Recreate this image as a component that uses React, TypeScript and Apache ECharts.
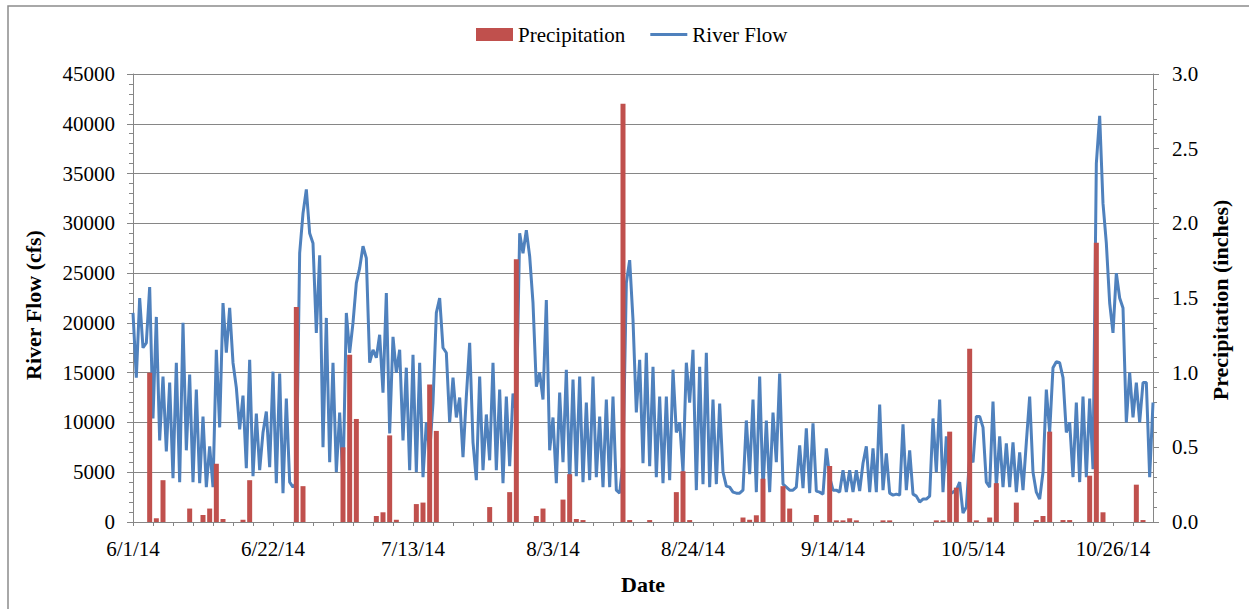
import React, { useEffect, useRef } from "react";
import * as echarts from "echarts";

// ---- data ----
const START_UTC = Date.UTC(2014, 5, 1); // 6/1/14
const DAY_MS = 86400000;
const AXIS_DAYS = 153; // 6/1/14 .. 11/1/14
const LABEL_EVERY_DAYS = 21;
const FLOW_STEP_DAYS = 0.5;

// daily precipitation (inches), one value per day starting 6/1/14
const precipitationDaily = [
  0, 0, 1.0, 0.025, 0.28, 0, 0, 0, 0.09, 0,
  0.047, 0.09, 0.39, 0.02, 0, 0, 0.015, 0.28, 0, 0,
  0, 0, 0, 0, 1.44, 0.24, 0, 0, 0, 0,
  0, 0.5, 1.12, 0.69, 0, 0, 0.04, 0.065, 0.58, 0.015,
  0, 0, 0.12, 0.13, 0.92, 0.61, 0, 0, 0, 0,
  0, 0, 0, 0.1, 0, 0, 0.2, 1.76, 0, 0,
  0.04, 0.09, 0, 0, 0.15, 0.32, 0.02, 0.013, 0, 0,
  0, 0, 0, 2.8, 0.013, 0, 0, 0.013, 0, 0,
  0, 0.2, 0.34, 0.013, 0, 0, 0, 0, 0, 0,
  0, 0.03, 0.015, 0.045, 0.29, 0, 0, 0.24, 0.09, 0,
  0, 0, 0.047, 0, 0.375, 0.011, 0.011, 0.025, 0.011, 0,
  0, 0, 0.011, 0.011, 0, 0, 0, 0, 0, 0,
  0.011, 0.011, 0.605, 0.23, 0, 1.16, 0.011, 0, 0.03, 0.26,
  0, 0, 0.13, 0, 0, 0.013, 0.04, 0.605, 0, 0.013,
  0.013, 0, 0, 0.31, 1.87, 0.065, 0, 0, 0, 0,
  0.25, 0.013, 0,
];

// river flow (cfs), one reading every half day starting 6/1/14
const riverFlow = [
  21000, 14500, 22500, 17500, 18000, 23600, 10400, 20600, 8200, 14600,
  7100, 14000, 4400, 16000, 4000, 20000, 7200, 14800, 4000, 13300,
  3900, 10600, 3500, 7600, 3500, 17300, 9500, 22000, 17000, 21500,
  16000, 13500, 9300, 12700, 5400, 16300, 4600, 10900, 5200, 9000,
  11100, 5500, 15100, 3900, 14900, 2900, 12400, 4000, 3500, 3900,
  27000, 31000, 33400, 29000, 28000, 19000, 26800, 7500, 20500, 6000,
  16000, 5000, 11000, 4000, 21000, 17000, 20000, 24000, 25500, 27700,
  26500, 16000, 17300, 16500, 18800, 13000, 23000, 8900, 18600, 15000,
  17300, 8200, 15500, 5200, 16800, 5000, 16000, 4500, 10000, 7000,
  12000, 21000, 22500, 17500, 17000, 10000, 14500, 10500, 12500, 6500,
  12600, 18000, 8000, 4200, 14600, 5200, 10800, 6200, 16000, 5200,
  13300, 3900, 12600, 5600, 12900, 11000, 29000, 27000, 29300, 26700,
  22000, 13600, 15000, 12300, 22300, 7200, 10500, 3900, 13000, 6000,
  15300, 4000, 14300, 4600, 14600, 4000, 12000, 4200, 14600, 4500,
  10600, 3500, 12300, 3500, 12600, 3200, 2900, 6000, 24000, 26300,
  20300, 11000, 16300, 5900, 17000, 5600, 15600, 4500, 12600, 3900,
  12600, 4200, 15300, 9000, 10000, 5000, 16000, 12000, 17300, 3200,
  15600, 3800, 17000, 3500, 12300, 3800, 11900, 5000, 3600, 3500,
  3000, 2900, 2900, 3200, 10200, 4800, 12300, 3000, 14600, 3200,
  10200, 3000, 11000, 6000, 14900, 3800, 3500, 3200, 3200, 3500,
  7700, 3400, 9400, 2900, 9900, 3100, 3000, 2800, 7400, 4500,
  3200, 3200, 3000, 5200, 3000, 5200, 3000, 5200, 3100, 5900,
  7600, 3000, 7400, 3000, 11800, 3200, 6900, 2900, 2700, 2800,
  2700, 9800, 3200, 7200, 2800, 2600, 2000, 2300, 2300, 2600,
  10400, 5000, 12300, 3000, 8600, 2800, 3000, 3200, 4000, 900,
  1500, 6600, 6000, 10600, 10600, 9500, 4000, 3500, 12100, 3500,
  8600, 3500, 7900, 3500, 8000, 3000, 7000, 3200, 8000, 12600,
  5000, 3000, 2300, 5000, 13300, 9000, 15500, 16100, 16000, 14500,
  9000, 10000, 4500, 12000, 4000, 12600, 4500, 12400, 5300, 36000,
  40800, 32000, 28000, 22000, 19000, 25000, 22500, 21500, 10000, 15000,
  10500, 14000, 10000, 14000, 14000, 4500, 12000,
];

const flowAxis = { min: 0, max: 45000, interval: 5000 };
const precipAxis = { min: 0, max: 3, interval: 0.5 };

// ---- helpers ----
const FONT = "Liberation Serif";
const GRID_COLOR = "#868686";
const BAR_COLOR = "#C0504D";
const LINE_COLOR = "#4F81BD";

function dayLabel(d: number): string {
  const dt = new Date(START_UTC + d * DAY_MS);
  return `${dt.getUTCMonth() + 1}/${dt.getUTCDate()}/${String(dt.getUTCFullYear()).slice(2)}`;
}

export default function App() {
  const ref = useRef<HTMLDivElement>(null);

  useEffect(() => {
    if (!ref.current) return;
    const chart = echarts.init(ref.current, null, { renderer: "svg" });

    const barData = precipitationDaily
      .map((v, i) => (v > 0 ? [i + 0.5, v] : null))
      .filter((p) => p !== null);
    const lineData = riverFlow.map((v, i) => [i * FLOW_STEP_DAYS, v]);

    const axisLabelStyle = { fontFamily: FONT, fontSize: 21, color: "#000" };

    chart.setOption({
      animation: false,
      backgroundColor: "#fff",
      textStyle: { fontFamily: FONT },
      grid: { left: 133, top: 74, width: 1020, height: 448, containLabel: false },
      legend: {
        data: [
          { name: "Precipitation", icon: "rect" },
          { name: "River Flow", icon: "path://M0,0H37V3H0Z" },
        ],
        left: 476,
        top: 24,
        padding: 0,
        itemWidth: 37,
        itemHeight: 13,
        itemGap: 25,
        textStyle: { fontFamily: FONT, fontSize: 21, color: "#000" },
      },
      xAxis: {
        type: "value",
        min: 0,
        max: AXIS_DAYS,
        interval: 3,
        axisLine: { show: true, lineStyle: { color: GRID_COLOR, width: 1 } },
        axisTick: { show: true, length: 4, lineStyle: { color: GRID_COLOR } },
        splitLine: { show: false },
        axisLabel: {
          ...axisLabelStyle,
          margin: 16,
          showMaxLabel: false,
          formatter: (v: number) =>
            Math.round(v) % LABEL_EVERY_DAYS === 0 && v < AXIS_DAYS ? dayLabel(Math.round(v)) : "",
        },
      },
      yAxis: [
        {
          type: "value",
          position: "left",
          min: flowAxis.min,
          max: flowAxis.max,
          interval: flowAxis.interval,
          axisLine: { show: true, lineStyle: { color: GRID_COLOR, width: 1 } },
          axisTick: { show: true, length: 6, lineStyle: { color: GRID_COLOR } },
          minorTick: { show: true, splitNumber: 5, length: 4, lineStyle: { color: GRID_COLOR } },
          splitLine: { show: true, lineStyle: { color: GRID_COLOR, width: 1 } },
          axisLabel: { ...axisLabelStyle, margin: 18, formatter: (v: number) => String(v) },
        },
        {
          type: "value",
          position: "right",
          min: precipAxis.min,
          max: precipAxis.max,
          interval: precipAxis.interval,
          axisLine: { show: true, lineStyle: { color: GRID_COLOR, width: 1 } },
          axisTick: { show: true, length: 6, lineStyle: { color: GRID_COLOR } },
          minorTick: { show: true, splitNumber: 5, length: 4, lineStyle: { color: GRID_COLOR } },
          splitLine: { show: false },
          axisLabel: { ...axisLabelStyle, margin: 19, formatter: (v: number) => v.toFixed(1) },
        },
      ],
      series: [
        {
          name: "Precipitation",
          type: "bar",
          yAxisIndex: 1,
          barWidth: 5,
          data: barData,
          itemStyle: { color: BAR_COLOR },
          z: 3,
        },
        {
          name: "River Flow",
          type: "line",
          yAxisIndex: 0,
          data: lineData,
          symbol: "none",
          showSymbol: false,
          lineStyle: { color: LINE_COLOR, width: 3 },
          itemStyle: { color: LINE_COLOR },
          z: 2,
        },
      ],
      graphic: [
        {
          type: "rect",
          shape: { x: 8, y: 6, width: 1300, height: 700 },
          style: { fill: "none", stroke: "#8c8c8c", lineWidth: 1.5 },
          silent: true,
        },
        {
          type: "text",
          x: 33,
          y: 305,
          rotation: Math.PI / 2,
          style: {
            text: "River Flow (cfs)",
            fontFamily: FONT,
            fontSize: 22,
            fontWeight: "bold",
            align: "center",
            verticalAlign: "middle",
            fill: "#000",
          },
        },
        {
          type: "text",
          x: 1220,
          y: 300,
          rotation: Math.PI / 2,
          style: {
            text: "Precipitation (inches)",
            fontFamily: FONT,
            fontSize: 22,
            fontWeight: "bold",
            align: "center",
            verticalAlign: "middle",
            fill: "#000",
          },
        },
        {
          type: "text",
          x: 643,
          y: 584,
          style: {
            text: "Date",
            fontFamily: FONT,
            fontSize: 22,
            fontWeight: "bold",
            align: "center",
            verticalAlign: "middle",
            fill: "#000",
          },
        },
      ],
    });

    return () => chart.dispose();
  }, []);

  return (
    <div
      ref={ref}
      style={{ position: "absolute", left: 0, top: 0, width: 1249, height: 609, background: "#fff" }}
    />
  );
}
